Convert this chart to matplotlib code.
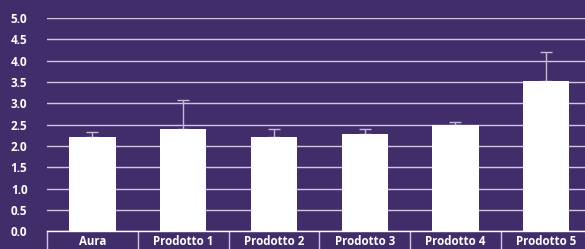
import matplotlib
matplotlib.use('Agg')
import matplotlib.pyplot as plt
import numpy as np

categories = ['Aura', 'Prodotto 1', 'Prodotto 2', 'Prodotto 3', 'Prodotto 4', 'Prodotto 5']
values = [2.21, 2.40, 2.21, 2.28, 2.49, 3.52]
err_up = [0.11, 0.68, 0.19, 0.12, 0.06, 0.68]
y_ticks = [0.0, 0.5, 1.0, 1.5, 2.0, 2.5, 3.0, 3.5, 4.0, 4.5, 5.0]

BG = '#422d6b'
GRID = '#cdc7e0'


def main():
    plt.rcParams['font.family'] = ['Open Sans', 'DejaVu Sans']
    fig = plt.figure(figsize=(5.85, 2.49), dpi=100, facecolor=BG)
    ax = fig.add_axes([0.0803, 0.071, 0.931, 0.857], facecolor=BG)

    x = np.arange(len(categories))
    ax.errorbar(x, values, yerr=[np.zeros(len(x)), err_up], fmt='none',
                ecolor='#c2bbd8', elinewidth=1, capsize=4, capthick=1, zorder=2)
    ax.bar(x, values, width=0.51, color='white', zorder=3)

    ax.set_xlim(-0.5, len(categories) - 0.5)
    ax.set_ylim(0, 5)
    ax.set_yticks(y_ticks)
    ax.set_yticklabels([f'{t:.1f}' for t in y_ticks], color='white',
                       fontsize=8.5, fontweight='bold')
    ax.yaxis.grid(True, color=GRID, linewidth=1)
    ax.set_axisbelow(True)
    ax.tick_params(axis='y', length=0, pad=14)

    ax.set_xticks(x)
    ax.set_xticklabels(categories, color='white', fontsize=8.3, fontweight='bold')
    ax.set_xticks(np.arange(len(categories) + 1) - 0.5, minor=True)
    ax.tick_params(axis='x', which='major', length=0, pad=2.5)
    ax.tick_params(axis='x', which='minor', length=14, width=1, color=GRID, direction='out')

    for side in ['top', 'right', 'left']:
        ax.spines[side].set_visible(False)
    ax.spines['bottom'].set_color('white')
    ax.spines['bottom'].set_linewidth(1)

    fig.savefig('out.png', dpi=100, facecolor=BG)


if __name__ == '__main__':
    main()
